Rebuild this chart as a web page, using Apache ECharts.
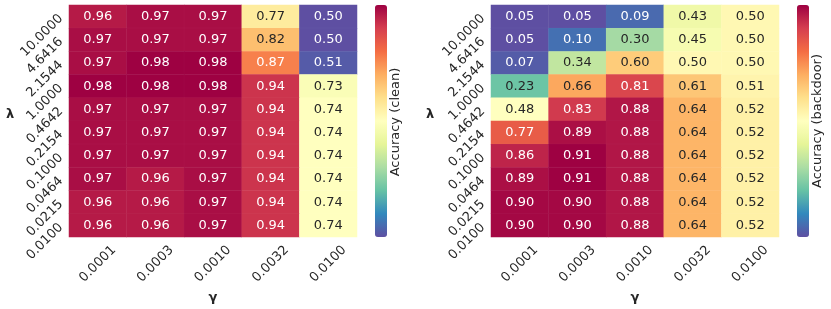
<!DOCTYPE html>
<html>
<head>
<meta charset="utf-8">
<script src="https://cdn.jsdelivr.net/npm/echarts@6/dist/echarts.min.js"></script>
<style>
html,body{margin:0;padding:0;background:#fff;}
#chart{width:831px;height:309px;}
</style>
</head>
<body>
<div id="chart"></div>
<script>
// gamma (columns) and lambda (rows, top to bottom)
const gammaLabels = ['0.0001','0.0003','0.0010','0.0032','0.0100'];
const lambdaLabels = ['10.0000','4.6416','2.1544','1.0000','0.4642','0.2154','0.1000','0.0464','0.0215','0.0100'];

// Accuracy (clean), rows top to bottom
const cleanAcc = [
  [0.96,0.97,0.97,0.77,0.50],
  [0.97,0.97,0.97,0.82,0.50],
  [0.97,0.98,0.98,0.87,0.51],
  [0.98,0.98,0.98,0.94,0.73],
  [0.97,0.97,0.97,0.94,0.74],
  [0.97,0.97,0.97,0.94,0.74],
  [0.97,0.97,0.97,0.94,0.74],
  [0.97,0.96,0.97,0.94,0.74],
  [0.96,0.96,0.97,0.94,0.74],
  [0.96,0.96,0.97,0.94,0.74]
];

// Accuracy (backdoor), rows top to bottom
const backdoorAcc = [
  [0.05,0.05,0.09,0.43,0.50],
  [0.05,0.10,0.30,0.45,0.50],
  [0.07,0.34,0.60,0.50,0.50],
  [0.23,0.66,0.81,0.61,0.51],
  [0.48,0.83,0.88,0.64,0.52],
  [0.77,0.89,0.88,0.64,0.52],
  [0.86,0.91,0.88,0.64,0.52],
  [0.89,0.91,0.88,0.64,0.52],
  [0.90,0.90,0.88,0.64,0.52],
  [0.90,0.90,0.88,0.64,0.52]
];

const SPECTRAL_R = ['#5e4fa2','#3288bd','#66c2a5','#abdda4','#e6f598','#ffffbf','#fee08b','#fdae61','#f46d43','#d53e4f','#9e0142'];

function hexToRgb(h){return [parseInt(h.substr(1,2),16),parseInt(h.substr(3,2),16),parseInt(h.substr(5,2),16)];}
function cmap(t){
  t = Math.max(0, Math.min(1, t));
  const p = t*(SPECTRAL_R.length-1);
  const i = Math.min(Math.floor(p), SPECTRAL_R.length-2);
  const f = p - i;
  const a = hexToRgb(SPECTRAL_R[i]), b = hexToRgb(SPECTRAL_R[i+1]);
  return [0,1,2].map(k => a[k] + (b[k]-a[k])*f);
}
function textColorFor(v, lo, hi){
  const rgb = cmap((v-lo)/(hi-lo)).map(c => {
    c = c/255;
    return c <= 0.03928 ? c/12.92 : Math.pow((c+0.055)/1.055, 2.4);
  });
  const lum = 0.2126*rgb[0] + 0.7152*rgb[1] + 0.0722*rgb[2];
  return lum > 0.408 ? '#262626' : '#ffffff';
}

function buildData(mat){
  const flat = mat.flat();
  const lo = Math.min(...flat), hi = Math.max(...flat);
  const data = [];
  mat.forEach((row, r) => row.forEach((v, c) => {
    data.push({value:[c, r, v], label:{color:textColorFor(v, lo, hi)}});
  }));
  return {data, lo, hi};
}

const clean = buildData(cleanAcc);
const backdoor = buildData(backdoorAcc);

const FONT = 'DejaVu Sans';
const GRID_LEFTS = [69, 491];
const GRID_W = 288, GRID_H = 232, GRID_TOP = 5;

function xAxis(gi){
  return {
    type:'category', gridIndex:gi, data:gammaLabels,
    axisLine:{show:false}, axisTick:{show:false}, splitLine:{show:false},
    axisLabel:{interval:0, rotate:45, align:'center', verticalAlign:'middle', margin:27,
      fontFamily:FONT, fontSize:13, color:'#262626'}
  };
}
function yAxis(gi){
  return {
    type:'category', gridIndex:gi, data:lambdaLabels, inverse:true,
    axisLine:{show:false}, axisTick:{show:false}, splitLine:{show:false},
    axisLabel:{interval:0, rotate:45, align:'right', verticalAlign:'middle', margin:8,
      fontFamily:FONT, fontSize:13, color:'#262626'}
  };
}
function series(gi, d){
  return {
    type:'heatmap', xAxisIndex:gi, yAxisIndex:gi, data:d.data,
    label:{show:true, fontFamily:FONT, fontSize:13, formatter:p => p.value[2].toFixed(2)},
    itemStyle:{borderWidth:0.5, borderColor:'rgba(255,255,255,0.06)'},
    emphasis:{disabled:true}
  };
}
function vmap(si, d, left){
  return {
    type:'continuous', seriesIndex:si, dimension:2, min:d.lo, max:d.hi,
    inRange:{color:SPECTRAL_R}, calculable:false, hoverLink:false,
    orient:'vertical', left:left, top:GRID_TOP, itemWidth:12, itemHeight:GRID_H,
    padding:0, text:null, textStyle:{fontSize:0}
  };
}
function txt(str, x, y, opts){
  return Object.assign({type:'text', x:x, y:y, silent:true,
    style:Object.assign({text:str, fontFamily:FONT, fontSize:13, fill:'#262626', textAlign:'center', textVerticalAlign:'middle'}, opts.style||{})}, opts.el||{});
}

const chart = echarts.init(document.getElementById('chart'), null, {renderer:'canvas'});
chart.setOption({
  animation:false,
  backgroundColor:'#ffffff',
  grid:GRID_LEFTS.map(l => ({left:l, top:GRID_TOP, width:GRID_W, height:GRID_H, containLabel:false})),
  xAxis:[xAxis(0), xAxis(1)],
  yAxis:[yAxis(0), yAxis(1)],
  visualMap:[vmap(0, clean, 375), vmap(1, backdoor, 797)],
  series:[series(0, clean), series(1, backdoor)],
  graphic:[
    txt('λ', 10, 115, {style:{fontWeight:'bold'}}),
    txt('λ', 430, 115, {style:{fontWeight:'bold'}}),
    txt('γ', 213, 298, {style:{fontWeight:'bold'}}),
    txt('γ', 635, 298, {style:{fontWeight:'bold'}}),
    txt('Accuracy (clean)', 396, 122, {el:{rotation:Math.PI/2}}),
    txt('Accuracy (backdoor)', 818, 121, {el:{rotation:Math.PI/2}})
  ]
});
</script>
</body>
</html>
